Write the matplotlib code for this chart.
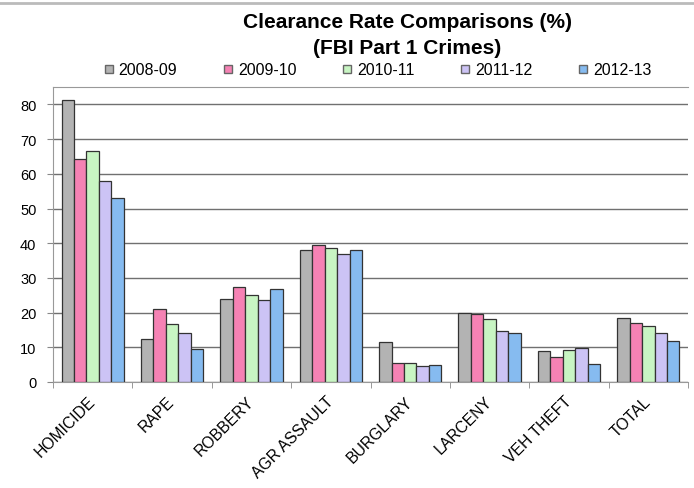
import numpy as np
import matplotlib.pyplot as plt
from matplotlib.lines import Line2D

plt.rcParams['font.family'] = ['Liberation Sans', 'DejaVu Sans']

crimes = ["HOMICIDE", "RAPE", "ROBBERY", "AGR ASSAULT", "BURGLARY",
          "LARCENY", "VEH THEFT", "TOTAL"]
years = ["2008-09", "2009-10", "2010-11", "2011-12", "2012-13"]

rate_0809 = [81.4, 12.4, 23.9, 38.1, 11.4, 19.9, 8.8, 18.4]
rate_0910 = [64.2, 21.0, 27.4, 39.5, 5.5, 19.7, 7.3, 16.9]
rate_1011 = [66.6, 16.7, 25.1, 38.5, 5.5, 18.1, 9.2, 16.1]
rate_1112 = [57.9, 14.0, 23.7, 36.8, 4.5, 14.8, 9.8, 14.0]
rate_1213 = [52.9, 9.5, 26.8, 38.1, 4.9, 14.0, 5.1, 11.8]

series = [rate_0809, rate_0910, rate_1011, rate_1112, rate_1213]
colors = ['#B3B3B3', '#F582B4', '#C8F5C3', '#CCC3F5', '#86BBF0']

fig = plt.figure(figsize=(6.94, 4.89), dpi=100)
ax = fig.add_axes([0.0764, 0.2168, 0.915, 0.603])

x = np.arange(len(crimes))
width = 0.157
for i, (vals, c) in enumerate(zip(series, colors)):
    ax.bar(x + (i - 2) * width, vals, width, color=c, edgecolor='#333333',
           linewidth=0.9, label=years[i], zorder=3)

ax.set_xlim(-0.5, len(crimes) - 0.5)
ax.set_ylim(0, 85)
ax.set_yticks(range(0, 81, 10))
ax.yaxis.grid(True, color='#707070', linewidth=1.0, zorder=0)
ax.tick_params(axis='y', length=4, color='#888888', labelsize=10.5, pad=8)

ax.set_xticks(x)
ax.set_xticklabels(crimes, rotation=45, ha='right', va='center',
                   rotation_mode='anchor', fontsize=11.3)
ax.set_xticks(np.arange(-0.5, len(crimes)), minor=True)
ax.tick_params(axis='x', which='major', length=0, pad=12)
ax.tick_params(axis='x', which='minor', length=4, color='#888888')

for side in ['left', 'bottom', 'top']:
    ax.spines[side].set_color('#999999')
ax.spines['right'].set_visible(False)

fig.text(0.587, 0.953, "Clearance Rate Comparisons (%)", ha='center',
         va='center', fontsize=15, fontweight='bold')
fig.text(0.587, 0.900, "(FBI Part 1 Crimes)", ha='center', va='center',
         fontsize=15, fontweight='bold')

# legend entries along the top
handles = [Line2D([], [], marker='s', linestyle='none', markersize=6,
                  markerfacecolor=c, markeredgecolor='#666666')
           for c in colors]
fig.legend(handles, years, loc='center', bbox_to_anchor=(0.542, 0.855),
           ncol=5, frameon=False, fontsize=11.5, handletextpad=0.1,
           columnspacing=2.7, handlelength=1.0)

fig.add_artist(Line2D([0, 1], [0.992, 0.992], color='#BBBBBB', linewidth=2))

fig.savefig("out.png", dpi=100)
